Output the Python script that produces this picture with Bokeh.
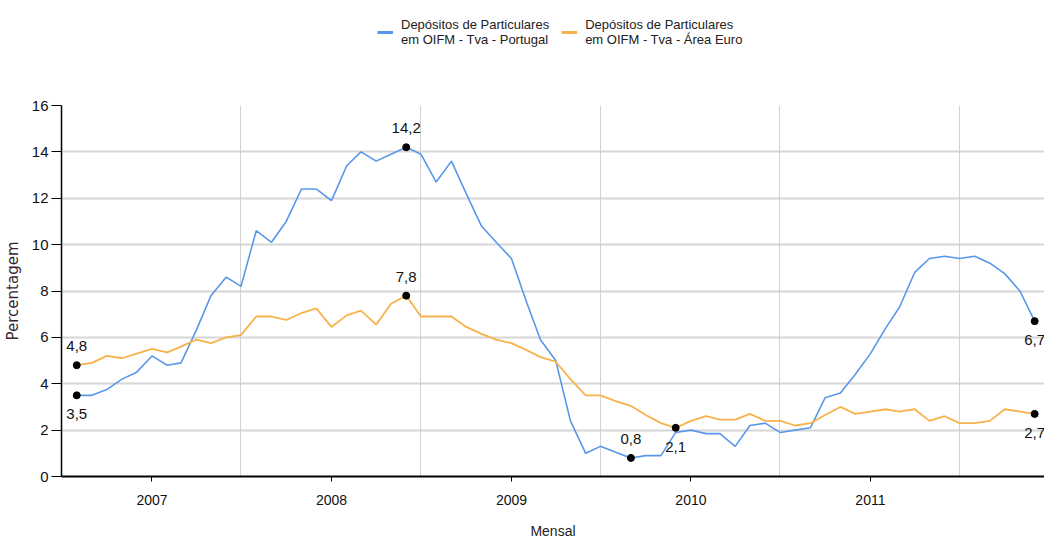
import pandas as pd
from bokeh.plotting import figure
from bokeh.layouts import column
from bokeh.models import (ColumnDataSource, Legend, LegendItem, FixedTicker, Grid,
                          DatetimeTickFormatter, Range1d, LabelSet)
from bokeh.core.properties import value
from bokeh.embed import file_html
from bokeh.resources import INLINE

# ---------------- data ----------------
start_month = "2006-08-01"
end_month = "2011-12-01"
months = pd.date_range(start_month, end_month, freq="MS")

portugal = [3.5, 3.5, 3.75, 4.2, 4.5, 5.2, 4.8, 4.9, 6.3, 7.8,
            8.6, 8.2, 10.6, 10.1, 11.0, 12.4, 12.4, 11.9, 13.4, 14.0,
            13.6, 13.9, 14.2, 13.9, 12.7, 13.6, 12.2, 10.8, 10.1, 9.4,
            7.5, 5.9, 5.0, 2.4, 1.0, 1.3, 1.05, 0.8, 0.9, 0.9,
            1.9, 2.0, 1.85, 1.85, 1.3, 2.2, 2.3, 1.9, 2.0, 2.1,
            3.4, 3.6, 4.4, 5.3, 6.4, 7.3, 8.8, 9.4, 9.5, 9.4,
            9.5, 9.2, 8.75, 8.0, 6.7]

area_euro = [4.8, 4.9, 5.2, 5.1, 5.3, 5.5, 5.35, 5.6, 5.9, 5.75,
             6.0, 6.1, 6.9, 6.9, 6.75, 7.05, 7.25, 6.45, 6.95, 7.15,
             6.55, 7.45, 7.8, 6.9, 6.9, 6.9, 6.45, 6.15, 5.9, 5.75,
             5.45, 5.15, 4.95, 4.2, 3.5, 3.5, 3.25, 3.05, 2.65, 2.3,
             2.1, 2.4, 2.6, 2.45, 2.45, 2.7, 2.4, 2.4, 2.2, 2.3,
             2.65, 3.0, 2.7, 2.8, 2.9, 2.8, 2.9, 2.4, 2.6, 2.3,
             2.3, 2.4, 2.9, 2.8, 2.7]

series_names = ["Depósitos de Particulares\nem OIFM - Tva - Portugal",
                "Depósitos de Particulares\nem OIFM - Tva - Área Euro"]
year_ticks = ["2007-01-01", "2008-01-01", "2009-01-01", "2010-01-01", "2011-01-01"]
mid_year_grid = ["2007-07-01", "2008-07-01", "2009-07-01", "2010-07-01", "2011-07-01"]
y_ticks = [0, 2, 4, 6, 8, 10, 12, 14, 16]
x_title = "Mensal"
y_title = "Percentagem"

# ---------------- styling ----------------
BLUE = "#5898ea"
ORANGE = "#f8b24c"
FONT = "Liberation Sans"

def ms(d):
    return pd.Timestamp(d).value / 1e6

x_start = ms("2006-07-01")
x_end = x_start + 1999 * 86400000.0

# ---------------- legend strip ----------------
leg = figure(width=1044, height=60, output_backend="svg", toolbar_location=None,
             min_border_left=0, min_border_right=0, min_border_top=0,
             min_border_bottom=0, x_axis_location=None, y_axis_location=None)
leg.outline_line_color = None
leg.grid.visible = False
# single-point lines: they draw nothing in the strip, only the legend swatches
lg_pt = leg.line(x=[0], y=[portugal[0]], line_color=BLUE, line_width=3)
lg_ae = leg.line(x=[0], y=[area_euro[0]], line_color=ORANGE, line_width=3)
legend = Legend(items=[LegendItem(label=series_names[0], renderers=[lg_pt]),
                       LegendItem(label=series_names[1], renderers=[lg_ae])],
                orientation="horizontal", location=(314, 6),
                border_line_alpha=0, background_fill_alpha=0,
                label_text_font=FONT, label_text_font_size="13px",
                label_text_line_height=1.8,
                label_text_color="#222222", glyph_width=16, glyph_height=40,
                label_standoff=8, spacing=12, padding=2, margin=0)
leg.add_layout(legend)

# ---------------- main chart ----------------
p = figure(width=1044, height=481, output_backend="svg", toolbar_location=None,
           x_axis_type="datetime",
           x_range=Range1d(x_start, x_end), y_range=Range1d(0, 16),
           min_border_left=56, min_border_right=0, min_border_top=45,
           min_border_bottom=64)
p.outline_line_color = None
p.background_fill_color = "white"

# grids
p.xgrid.visible = False
p.ygrid.ticker = FixedTicker(ticks=y_ticks)
p.ygrid.grid_line_color = "#d6d6d6"
p.ygrid.grid_line_width = 2
vgrid = Grid(dimension=0, ticker=FixedTicker(ticks=[ms(d) for d in mid_year_grid]),
             grid_line_color="#d2d2d2", grid_line_width=1)
p.add_layout(vgrid)

# axes
p.xaxis.ticker = FixedTicker(ticks=[ms(d) for d in year_ticks])
p.xaxis.formatter = DatetimeTickFormatter(years="%Y", months="%Y", days="%Y")
p.xaxis.axis_line_width = 2
p.xaxis.axis_line_color = "black"
p.xaxis.major_tick_out = 5
p.xaxis.major_tick_in = 0
p.xaxis.minor_tick_out = 0
p.xaxis.minor_tick_in = 0
p.xaxis.major_label_text_font = FONT
p.xaxis.major_label_text_font_size = "14px"
p.xaxis.major_label_text_color = "#111111"
p.xaxis.major_label_standoff = 13
p.xaxis.axis_label = x_title
p.xaxis.axis_label_text_font = FONT
p.xaxis.axis_label_text_font_size = "14px"
p.xaxis.axis_label_text_font_style = "normal"
p.xaxis.axis_label_text_color = "#222222"
p.xaxis.axis_label_standoff = 15

p.yaxis.ticker = FixedTicker(ticks=y_ticks)
p.yaxis.axis_line_width = 1.5
p.yaxis.axis_line_color = "black"
p.yaxis.major_tick_out = 10
p.yaxis.major_tick_in = 0
p.yaxis.minor_tick_out = 0
p.yaxis.minor_tick_in = 0
p.yaxis.major_label_text_font = FONT
p.yaxis.major_label_text_font_size = "15px"
p.yaxis.major_label_text_color = "#111111"
p.yaxis.major_label_standoff = 3
p.yaxis.axis_label = y_title
p.yaxis.axis_label_text_font = "DejaVu Sans"
p.yaxis.axis_label_text_font_size = "15px"
p.yaxis.axis_label_text_font_style = "normal"
p.yaxis.axis_label_text_color = "#3a2630"
p.yaxis.axis_label_standoff = 7

# series
src = ColumnDataSource(dict(x=months, pt=portugal, ae=area_euro))
p.line("x", "pt", source=src, line_color=BLUE, line_width=1.6)
p.line("x", "ae", source=src, line_color=ORANGE, line_width=1.8)

# highlighted points: first, max, min, last of each series
def pick(vals):
    n = len(vals)
    imax = max(range(n), key=lambda i: vals[i])
    imin = min(range(n), key=lambda i: vals[i])
    return [0, imax, imin, n - 1]

pt_idx = pick(portugal)
ae_idx = pick(area_euro)
pt_pos = [-1, 1, 1, -1]   # below, above, above, below
ae_pos = [1, 1, -1, -1]   # above, above, below, below
lx, ly, lt, lo = [], [], [], []
for idx, pos, vals in ((pt_idx, pt_pos, portugal), (ae_idx, ae_pos, area_euro)):
    for i, s in zip(idx, pos):
        lx.append(months[i])
        ly.append(vals[i])
        lt.append(f"{vals[i]:.1f}".replace(".", ","))
        lo.append(19 * s)
lsrc = ColumnDataSource(dict(x=lx, y=ly, t=lt, off=lo))
p.scatter("x", "y", source=lsrc, size=7, color="black")
p.add_layout(LabelSet(x="x", y="y", text="t", y_offset="off", source=lsrc,
                      text_align="center", text_baseline="middle",
                      text_font=value(FONT), text_font_size=value("15px"),
                      text_color="#111111"))

layout = column(leg, p, spacing=0)
open("out.html", "w").write(file_html(layout, INLINE))
